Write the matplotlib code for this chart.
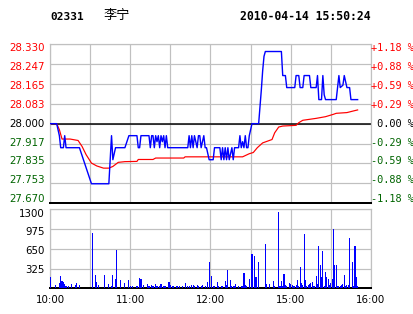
import matplotlib
matplotlib.use("Agg")
import matplotlib.pyplot as plt

# ---------------- data ----------------
code = "02331"
name = "李宁"
stamp = "2010-04-14 15:50:24"
prev_close = 28.000

price_ticks = [28.330, 28.247, 28.165, 28.083, 28.000, 27.917, 27.835, 27.753, 27.670]
pct_labels = ["+1.18 %", "+0.88 %", "+0.59 %", "+0.29 %", " 0.00 %",
              "-0.29 %", "-0.59 %", "-0.88 %", "-1.18 %"]
vol_ticks = [1300, 975, 650, 325]
time_ticks = [0, 60, 120, 180, 240]
time_labels = ["10:00", "11:00", "12:00", "15:00", "16:00"]

# minute index (0..240), last price
price_min = [0, 5, 7, 8, 10, 11, 12, 22, 31, 44, 45, 46, 47, 49, 56, 59, 65, 66, 67, 68,
             74, 75, 76, 77, 78, 79, 80, 81, 82, 83, 84, 85, 86, 87, 88, 103, 104, 105,
             106, 107, 108, 110, 111, 112, 113, 115, 116, 117, 118, 119, 122, 123, 127,
             128, 129, 130, 131, 132, 133, 134, 135, 136, 137, 138, 141, 142, 143, 144,
             145, 146, 147, 148, 149, 150, 151, 156, 157, 158, 159, 160, 161, 173, 174,
             176, 177, 183, 184, 186, 187, 189, 190, 194, 195, 199, 200, 201, 203, 204,
             205, 206, 214, 215, 216, 217, 219, 220, 221, 222, 224, 225, 230]
price_val = [28.00, 28.00, 27.95, 27.90, 27.90, 27.95, 27.90, 27.90, 27.75, 27.75, 27.85,
             27.95, 27.85, 27.90, 27.90, 27.95, 27.95, 27.90, 27.90, 27.95,
             27.95, 27.90, 27.95, 27.95, 27.90, 27.95, 27.925, 27.95, 27.90, 27.95,
             27.925, 27.95, 27.90, 27.95, 27.90, 27.90, 27.95, 27.90,
             27.95, 27.90, 27.95, 27.90, 27.95, 27.95, 27.90, 27.95, 27.90, 27.90,
             27.875, 27.85, 27.85, 27.90, 27.90,
             27.85, 27.90, 27.85, 27.90, 27.85, 27.90, 27.85, 27.875, 27.90, 27.85,
             27.90, 27.90, 27.95, 27.90, 27.925,
             27.90, 27.95, 27.90, 27.90, 27.95, 27.975, 28.00, 28.00, 28.07, 28.14,
             28.22, 28.28, 28.30, 28.30, 28.20,
             28.20, 28.15, 28.15, 28.20, 28.20, 28.15, 28.15, 28.20, 28.20, 28.15,
             28.15, 28.20, 28.10, 28.10, 28.20,
             28.12, 28.10, 28.10, 28.15, 28.20, 28.15, 28.16, 28.20, 28.175,
             28.15, 28.15, 28.10, 28.10]

# average price
avg_min = [0, 5, 7, 9, 15, 21, 24, 27, 31, 35, 40, 44, 47, 51, 56, 65, 66, 77, 79, 100,
           101, 144, 149, 152, 155, 159, 166, 168, 171, 174, 184, 186, 189, 194, 199,
           202, 206, 212, 214, 222, 227, 230]
avg_val = [28.000, 28.000, 27.975, 27.936, 27.936, 27.930, 27.905, 27.871, 27.836, 27.824,
           27.815, 27.815, 27.822, 27.839, 27.842, 27.843, 27.851, 27.851, 27.857, 27.857,
           27.862, 27.862, 27.875, 27.880, 27.900, 27.920, 27.934, 27.962, 27.986, 27.990,
           27.993, 28.004, 28.014, 28.018, 28.022, 28.025, 28.029, 28.039, 28.043, 28.046,
           28.053, 28.057]

vol_min = [0, 4, 7, 8, 9, 10, 11, 12, 14, 16, 19, 20, 22, 32, 34, 35, 36, 41, 44, 46, 47,
           49, 50, 53, 56, 59, 60, 62, 65, 67, 68, 70, 73, 74, 76, 77, 79, 80, 82, 83, 85,
           86, 89, 90, 92, 95, 97, 99, 101, 103, 104, 106, 107, 108, 110, 111, 113, 114,
           116, 118, 119, 121, 122, 123, 125, 126, 128, 129, 131, 132, 133, 135, 136, 137,
           138, 139, 141, 143, 144, 145, 146, 147, 149, 151, 153, 154, 156, 161, 162, 164,
           167, 168, 171, 172, 173, 174, 175, 176, 177, 179, 180, 181, 182, 183, 184, 185,
           186, 187, 188, 189, 190, 191, 192, 193, 194, 195, 196, 197, 198, 199, 200, 201,
           202, 203, 204, 205, 206, 207, 208, 209, 210, 211, 212, 213, 214, 215, 216, 217,
           218, 219, 220, 221, 222, 223, 224, 226, 227, 228, 229, 230]
vol_val = [192, 55, 82, 205, 121, 99, 71, 38, 38, 66, 55, 82, 55, 915, 220, 99, 55, 220, 71,
           38, 220, 154, 630, 132, 82, 135, 33, 38, 38, 170, 154, 55, 71, 38, 55, 38, 71, 38,
           38, 71, 38, 38, 110, 55, 38, 38, 38, 38, 82, 38, 38, 55, 55, 38, 55, 38, 38, 55,
           38, 105, 430, 203, 38, 38, 99, 33, 33, 33, 115, 55, 302, 132, 33, 33,
           33, 66, 33, 33, 33, 247, 50, 33, 154, 560, 532, 187, 428, 725, 66, 66,
           115, 33, 1252, 33, 115, 38, 231, 50, 33, 82, 66, 50, 33, 33, 50, 132,
           33, 346, 82, 50, 889, 137, 33, 50, 66, 82, 104, 33, 33, 203, 66, 692,
           384, 192, 615, 33, 264, 192, 154, 55, 93, 154, 977, 384, 384, 33, 33, 33,
           50, 66, 220, 33, 50, 50, 829, 439, 33, 703, 192, 33]

# ---------------- style ----------------
RED = "#ff0000"
GREEN = "#006400"
BLUE = "#0000ff"
GRID = "#c0c0c0"
PX = 0.72  # one pixel in points at dpi 100

W, H = 414, 314
fig = plt.figure(figsize=(W / 100, H / 100), dpi=100)
fig.patch.set_facecolor("white")

L, R = 50, 371
ax = fig.add_axes([L / W, 1 - 203 / H, (R - L) / W, (203 - 44.3) / H])
axv = fig.add_axes([L / W, 1 - 288.3 / H, (R - L) / W, (288.3 - 209.3) / H])

lbl_font = dict(family="DejaVu Sans", size=7.4)
mono_font = dict(family="DejaVu Sans Mono", size=7.4)

for a in (ax, axv):
    a.set_xlim(0, 240)
    for s in a.spines.values():
        s.set_color(GRID)
        s.set_linewidth(1.2 * PX)
    a.set_yticks([])
    a.tick_params(length=0)
    for gx in range(0, 241, 30):
        a.axvline(gx, color=GRID, lw=1.2 * PX, zorder=1)

ax.set_ylim(27.670, 28.330)
ax.set_xticks([])
for v in price_ticks:
    ax.axhline(v, color=GRID, lw=1.2 * PX, zorder=1)
ax.axhline(prev_close, color="black", lw=1.5 * PX, zorder=2)
ax.spines["bottom"].set_color("black")
ax.spines["bottom"].set_linewidth(2 * PX)

ax.plot(avg_min, avg_val, color=RED, lw=1.2 * PX, zorder=3)
ax.plot(price_min, price_val, color=BLUE, lw=1.4 * PX, zorder=4)

n = len(price_ticks) - 1
for i, (v, pl) in enumerate(zip(price_ticks, pct_labels)):
    dy = -(3.7 - 7.4 * i / n)
    c = RED if v > prev_close else ("black" if v == prev_close else GREEN)
    ax.annotate(f"{v:.3f}", xy=(0, v), xycoords=("axes fraction", "data"),
                xytext=(-5.5, dy), textcoords="offset pixels", ha="right", va="center",
                color=c, **lbl_font)
    ax.annotate(pl, xy=(1, v), xycoords=("axes fraction", "data"),
                xytext=(0.5, dy), textcoords="offset pixels", ha="left", va="center",
                color=c, **mono_font)

axv.set_ylim(0, 1300)
for v in vol_ticks:
    axv.axhline(v, color=GRID, lw=1.2 * PX, zorder=1)
axv.spines["bottom"].set_color("black")
axv.spines["bottom"].set_linewidth(2 * PX)
axv.bar(vol_min, vol_val, width=0.85, color=BLUE, linewidth=0, zorder=3,
        antialiased=False)
for i, v in enumerate(vol_ticks):
    dy = -(4.2 - 0.95 * i)
    axv.annotate(str(v), xy=(0, v), xycoords=("axes fraction", "data"),
                 xytext=(-5.5, dy), textcoords="offset pixels", ha="right", va="center",
                 color="black", **lbl_font)

axv.set_xticks(time_ticks)
axv.set_xticklabels(time_labels, **lbl_font)
axv.tick_params(axis="x", pad=4.5, length=0)

fig.text(50 / W, 1 - 16.5 / H, code, ha="left", va="center", family="DejaVu Sans Mono",
         weight="bold", size=8.0)
fig.text(104 / W, 1 - 16 / H, name, ha="left", va="center",
         family=["Noto Sans CJK SC", "DejaVu Sans"], size=9.5)
fig.text(370.5 / W, 1 - 16.5 / H, stamp, ha="right", va="center", family="DejaVu Sans Mono",
         weight="bold", size=8.3)

fig.savefig("out.png", dpi=100)
